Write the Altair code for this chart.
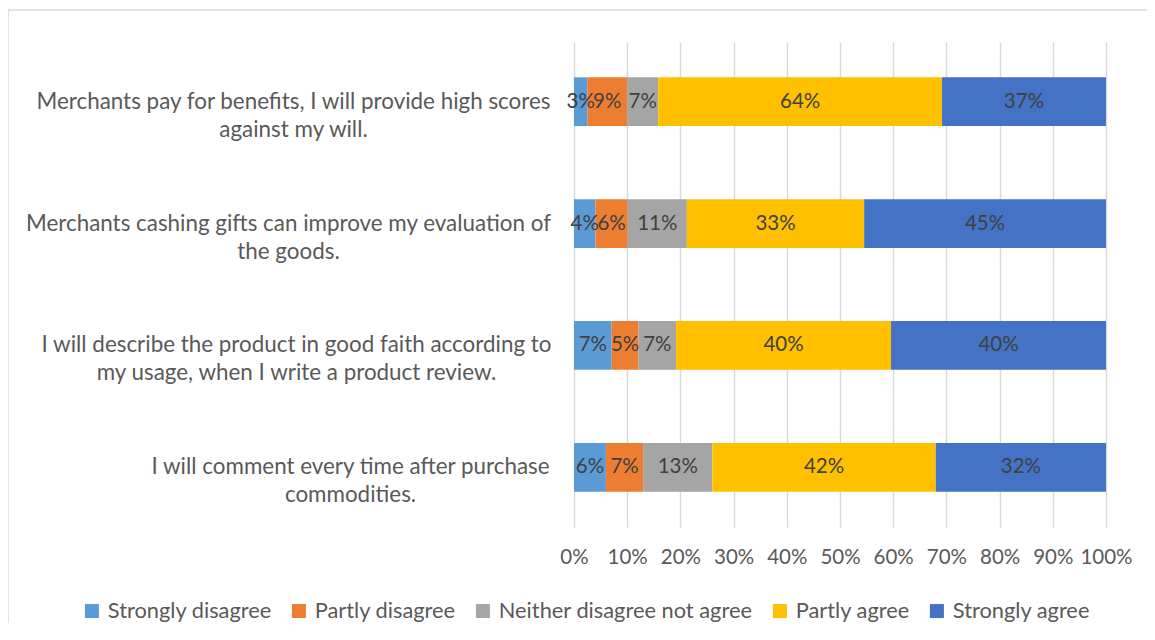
import altair as alt
import pandas as pd

QUESTIONS = [
    "Merchants pay for benefits, I will provide high scores|against my will.",
    "Merchants cashing gifts can improve my evaluation of|the goods.",
    "I will describe the product in good faith according to|my usage, when I write a product review.",
    "I will comment every time after purchase|commodities.",
]
RESPONSES = [
    "Strongly disagree",
    "Partly disagree",
    "Neither disagree not agree",
    "Partly agree",
    "Strongly agree",
]
COLORS = ["#5B9BD5", "#ED7D31", "#A5A5A5", "#FFC000", "#4472C4"]

ROW_PAY = [3, 9, 7, 64, 37]
ROW_GIFTS = [4, 6, 11, 33, 45]
ROW_FAITH = [7, 5, 7, 40, 40]
ROW_COMMENT = [6, 7, 13, 42, 32]
TICKS = [0, 0.1, 0.2, 0.3, 0.4, 0.5, 0.6, 0.7, 0.8, 0.9, 1.0]

# label block centring (padding from axis to the centre of each two-line label)
LABEL_PAD = [281, 286, 278, 224]

rows = []
for q, vals in zip(QUESTIONS, [ROW_PAY, ROW_GIFTS, ROW_FAITH, ROW_COMMENT]):
    for i, (r, v) in enumerate(zip(RESPONSES, vals)):
        rows.append({"question": q, "response": r, "order": i, "value": v})
df = pd.DataFrame(rows)

FONT = "Lato"
GREY = "#595959"

base = (
    alt.Chart(df)
    .transform_joinaggregate(total="sum(value)", groupby=["question"])
    .transform_calculate(frac="datum.value / datum.total")
    .transform_stack(
        stack="frac",
        as_=["x0", "x1"],
        groupby=["question"],
        sort=[alt.SortField("order", order="ascending")],
    )
    .transform_calculate(mid="(datum.x0 + datum.x1) / 2", label="datum.value + '%'")
)

pad_cond = {
    "condition": [
        {"test": "datum.value == '%s'" % q, "value": p}
        for q, p in zip(QUESTIONS, LABEL_PAD)
    ],
    "value": 24,
}

y_enc = alt.Y(
    "question:N",
    sort=QUESTIONS,
    title=None,
    scale=alt.Scale(paddingInner=0.6, paddingOuter=0.29),
    axis=alt.Axis(
        labelExpr="split(datum.value, '|')",
        labelFont=FONT,
        labelFontSize=22.4,
        labelColor=GREY,
        labelLineHeight=28,
        labelAlign="center",
        labelPadding=pad_cond,
        labelLimit=700,
        domain=False,
        ticks=False,
        grid=False,
    ),
)

bars = base.mark_bar().encode(
    x=alt.X(
        "x0:Q",
        scale=alt.Scale(domain=[0, 1], nice=False),
        title=None,
        axis=alt.Axis(
            values=TICKS,
            format=".0%",
            labelFont=FONT,
            labelFontSize=20.5,
            labelColor=GREY,
            labelPadding=20,
            labelOverlap=False,
            labelFlush=False,
            domain=False,
            ticks=False,
            grid=True,
            gridColor="#D9D9D9",
            gridWidth=1.5,
        ),
    ),
    x2="x1:Q",
    y=y_enc,
    color=alt.Color(
        "response:N",
        scale=alt.Scale(domain=RESPONSES, range=COLORS),
        sort=RESPONSES,
        legend=alt.Legend(
            title=None,
            orient="none",
            direction="horizontal",
            legendX=-493,
            legendY=558,
            padding=0,
            symbolType="square",
            symbolSize=196,
            symbolStrokeWidth=0,
            labelFont=FONT,
            labelFontSize=21.8,
            labelColor=GREY,
            labelOffset=5,
            columnPadding=16,
            labelLimit=400,
        ),
    ),
)

texts = base.mark_text(font=FONT, fontSize=20.5, color="#404040").encode(
    x=alt.X("mid:Q"),
    y=alt.Y("question:N", sort=QUESTIONS),
    text="label:N",
)

frame = (
    alt.Chart(alt.Data(values=[{"k": 1}]))
    .mark_rect(fill="transparent", stroke="#D9D9D9", strokeWidth=1.5)
    .encode(
        x=alt.value(-566),
        x2=alt.value(640),
        y=alt.value(-32),
        y2=alt.value(640),
    )
)

chart = (
    alt.layer(frame, bars, texts)
    .properties(
        width=532,
        height=485,
        padding={"left": 566, "top": 34, "right": 41, "bottom": 96},
        autosize=alt.AutoSizeParams(type="none"),
    )
    .configure_view(stroke=None)
)

chart.save("out.html", embed_options={"renderer": "svg", "actions": False})
